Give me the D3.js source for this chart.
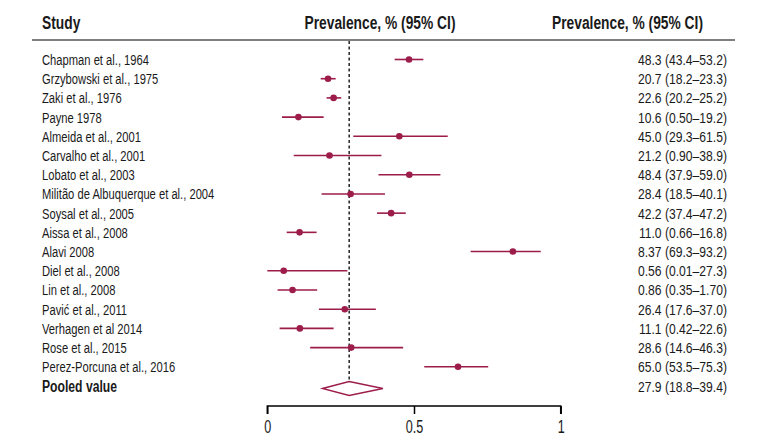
<!DOCTYPE html>
<html><head><meta charset="utf-8">
<script src="https://cdn.jsdelivr.net/npm/d3@7"></script>
<style>
body{margin:0;background:#fff;}
text{font-family:"Liberation Sans",Arial,sans-serif;fill:#1a1a1a;}
</style></head>
<body><svg id="chart" width="771" height="447"></svg>
<script>
const studies = ["Chapman et al., 1964","Grzybowski et al., 1975","Zaki et al., 1976","Payne 1978","Almeida et al., 2001","Carvalho et al., 2001","Lobato et al., 2003","Militão de Albuquerque et al., 2004","Soysal et al., 2005","Aissa et al., 2008","Alavi 2008","Diel et al., 2008","Lin et al., 2008","Pavić et al., 2011","Verhagen et al 2014","Rose et al., 2015","Perez-Porcuna et al., 2016"];
const estimates = [0.483,0.207,0.226,0.106,0.450,0.212,0.484,0.284,0.422,0.110,0.837,0.056,0.086,0.264,0.111,0.286,0.650];
const lower = [0.434,0.182,0.202,0.050,0.293,0.090,0.379,0.185,0.374,0.066,0.693,0.0001,0.035,0.176,0.042,0.146,0.535];
const upper = [0.532,0.233,0.252,0.192,0.615,0.389,0.590,0.401,0.472,0.168,0.932,0.273,0.170,0.370,0.226,0.463,0.753];
const valueLabels = ["48.3 (43.4–53.2)","20.7 (18.2–23.3)","22.6 (20.2–25.2)","10.6 (0.50–19.2)","45.0 (29.3–61.5)","21.2 (0.90–38.9)","48.4 (37.9–59.0)","28.4 (18.5–40.1)","42.2 (37.4–47.2)","11.0 (0.66–16.8)","8.37 (69.3–93.2)","0.56 (0.01–27.3)","0.86 (0.35–1.70)","26.4 (17.6–37.0)","11.1 (0.42–22.6)","28.6 (14.6–46.3)","65.0 (53.5–75.3)"];
const pooledLabel = "Pooled value";
const pooled = [0.279, 0.188, 0.394];
const pooledText = "27.9 (18.8–39.4)";
const headers = ["Study","Prevalence, % (95% CI)","Prevalence, % (95% CI)"];
const tickValues = [0, 0.5, 1];
const tickLabels = ["0","0.5","1"];

const svg = d3.select("#chart");
const col = "#9c1c4a";
const x = d3.scaleLinear().domain([0,1]).range([267.3,560.7]);
const rows = studies.concat([pooledLabel]);
const y = d3.scalePoint().domain(d3.range(rows.length)).range([59.5,386]);

// condense text horizontally to mimic a condensed face
function measure(str, size, weight){
  const t = svg.append("text").attr("font-size",size).attr("font-weight",weight).text(str);
  const w = t.node().getComputedTextLength(); t.remove(); return w;
}
function condense(sel, f){
  sel.each(function(){ const w=this.getComputedTextLength(); d3.select(this).attr("textLength",w*f).attr("lengthAdjust","spacingAndGlyphs"); });
}
const LS = 15.5, HS = 18;
const fLab = 107/measure("Chapman et al., 1964",LS,"normal");
const fVal = 89/measure("48.3 (43.4–53.2)",LS,"normal");
const fHead = 151/measure(headers[2],HS,"bold");
const fPool = 75/measure(pooledLabel,16,"bold");
const fTick = 17.5/measure("0.5",17.5,"normal");

// headers
const hy = 28.5;
const hd = svg.selectAll("text.hd").data(headers).enter().append("text").attr("class","hd")
  .attr("x",(d,i)=>[42,380,627.5][i]).attr("y",hy).attr("text-anchor",(d,i)=>i?"middle":"start")
  .attr("font-weight","bold").attr("font-size",HS).text(d=>d);
condense(hd,fHead);
svg.append("line").attr("x1",32).attr("x2",735).attr("y1",40).attr("y2",40).attr("stroke","#555").attr("stroke-width",1.5);

// reference dashed line
svg.append("line").attr("x1",x(pooled[0])).attr("x2",x(pooled[0])).attr("y1",41).attr("y2",y(17)-2)
  .attr("stroke","#000").attr("stroke-width",1.3).attr("stroke-dasharray","3,2.5");

// study labels
const lab = svg.selectAll("text.lab").data(rows).enter().append("text").attr("class","lab")
  .attr("x",42).attr("y",(d,i)=>y(i)+5.5).attr("font-size",(d,i)=>i===studies.length?16:LS)
  .attr("font-weight",(d,i)=>i===studies.length?"bold":"normal").text(d=>d);
condense(lab.filter((d,i)=>i<studies.length),fLab);
condense(lab.filter((d,i)=>i===studies.length),fPool);

// value labels
const val = svg.selectAll("text.val").data(valueLabels.concat([pooledText])).enter().append("text").attr("class","val")
  .attr("x",727).attr("y",(d,i)=>y(i)+5.5).attr("font-size",LS).attr("text-anchor","end").text(d=>d);
condense(val,fVal);

// CI lines
const g = svg.append("g");
g.selectAll("line.ci").data(studies).enter().append("line").attr("class","ci")
  .attr("x1",(d,i)=>x(lower[i])).attr("x2",(d,i)=>x(upper[i]))
  .attr("y1",(d,i)=>y(i)).attr("y2",(d,i)=>y(i)).attr("stroke",col).attr("stroke-width",1.6);
g.selectAll("circle.pt").data(studies).enter().append("circle").attr("class","pt")
  .attr("cx",(d,i)=>x(estimates[i])).attr("cy",(d,i)=>y(i)).attr("r",3.3).attr("fill",col);

// pooled diamond
const py = y(17)+2.5;
svg.append("path").attr("d",`M${x(pooled[1])},${py} L${x(pooled[0])},${py-7} L${x(pooled[2])},${py} L${x(pooled[0])},${py+7} Z`)
  .attr("fill","#fff").attr("stroke",col).attr("stroke-width",1.3);

// axis
const ax = svg.append("g").attr("transform","translate(0,406)")
  .call(d3.axisBottom(x).tickValues(tickValues).tickFormat((d,i)=>tickLabels[i]).tickSize(8).tickPadding(7));
ax.select(".domain").attr("stroke","#000").attr("stroke-width",1.5).attr("d",`M${x(0)},8V0H${x(1)}V8`);
ax.selectAll(".tick line").attr("stroke","#000").attr("stroke-width",1.5);
const tt = ax.selectAll(".tick text").attr("font-size",17.5).attr("font-family",null).attr("fill","#333");
condense(tt,fTick);
</script></body></html>
